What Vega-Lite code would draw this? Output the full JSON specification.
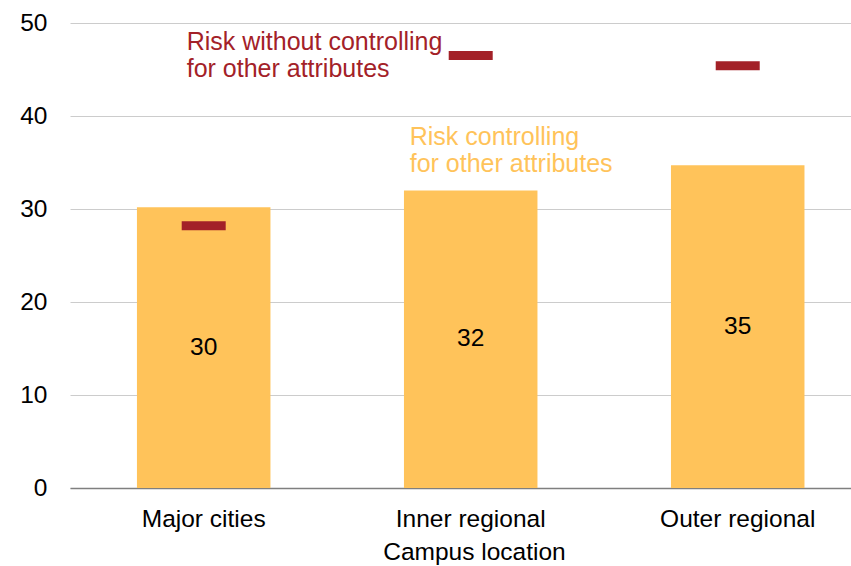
{
  "$schema": "https://vega.github.io/schema/vega-lite/v6.json",
  "width": 781,
  "height": 465,
  "autosize": "none",
  "padding": {"left": 70, "top": 23, "right": 0, "bottom": 78},
  "background": "white",
  "config": {
    "view": {"stroke": null},
    "font": "Liberation Sans",
    "axis": {"labelFont": "Liberation Sans", "titleFont": "Liberation Sans"}
  },
  "data": {
    "values": [
      {"location": "Major cities", "controlled": 30.2, "uncontrolled": 28.2, "label": "30"},
      {"location": "Inner regional", "controlled": 32.0, "uncontrolled": 46.5, "label": "32"},
      {"location": "Outer regional", "controlled": 34.7, "uncontrolled": 45.4, "label": "35"}
    ]
  },
  "encoding": {
    "x": {
      "field": "location",
      "type": "nominal",
      "sort": null,
      "scale": {"paddingInner": 0.5, "paddingOuter": 0.2125, "align": 0.59},
      "axis": {
        "title": "Campus location",
        "labelAngle": 0,
        "labelFontSize": 24.5,
        "labelColor": "#000000",
        "labelPadding": 19,
        "titleFontSize": 24.5,
        "titleFontWeight": "normal",
        "titleColor": "#000000",
        "titlePadding": 10,
        "titleX": 404,
        "titleAlign": "center",
        "ticks": false,
        "domainColor": "#7f7f7f",
        "domainWidth": 1.5,
        "grid": false
      }
    }
  },
  "layer": [
    {
      "mark": {"type": "bar", "color": "#FFC35A"},
      "encoding": {
        "y": {
          "field": "controlled",
          "type": "quantitative",
          "scale": {"domain": [0, 50], "nice": false},
          "axis": {
            "title": null,
            "values": [0, 10, 20, 30, 40, 50],
            "labelFontSize": 24.5,
            "labelColor": "#000000",
            "labelPadding": 23,
            "ticks": false,
            "domain": false,
            "gridColor": "#cccccc",
            "gridWidth": 1
          }
        }
      }
    },
    {
      "mark": {"type": "tick", "color": "#A32128", "size": 44, "thickness": 9, "opacity": 1},
      "encoding": {
        "y": {"field": "uncontrolled", "type": "quantitative"}
      }
    },
    {
      "transform": [{"calculate": "datum.controlled / 2", "as": "mid"}],
      "mark": {"type": "text", "fontSize": 24.5, "color": "#000000", "baseline": "middle"},
      "encoding": {
        "y": {"field": "mid", "type": "quantitative"},
        "text": {"field": "label"}
      }
    },
    {
      "transform": [{"filter": "datum.location === 'Major cities'"}],
      "mark": {
        "type": "text",
        "fontSize": 25,
        "color": "#A32128",
        "align": "left",
        "baseline": "alphabetic",
        "dx": -17,
        "lineHeight": 27.5,
        "text": ["Risk without controlling", "for other attributes"]
      },
      "encoding": {
        "y": {"datum": 47.1, "type": "quantitative"}
      }
    },
    {
      "transform": [{"filter": "datum.location === 'Inner regional'"}],
      "mark": {
        "type": "text",
        "fontSize": 25,
        "color": "#FFC35A",
        "align": "left",
        "baseline": "alphabetic",
        "dx": -61,
        "lineHeight": 27.5,
        "text": ["Risk controlling", "for other attributes"]
      },
      "encoding": {
        "y": {"datum": 36.9, "type": "quantitative"}
      }
    }
  ]
}
